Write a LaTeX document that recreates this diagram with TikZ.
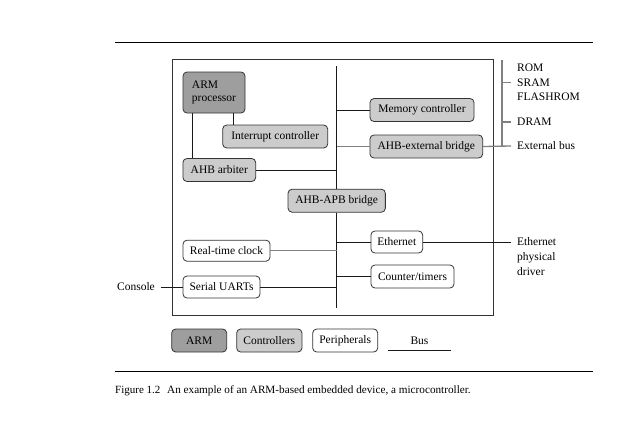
\documentclass[tikz,border=0pt]{standalone}
\usepackage{fontspec}
\setmainfont{Liberation Serif}
\usetikzlibrary{calc}

\begin{document}
\begin{tikzpicture}[x=1pt, y=-1pt,
  blk/.style={draw=black!80, line width=.8pt, rounded corners=4pt, minimum height=23pt, inner sep=2pt, font=\fontsize{11.5}{13}\selectfont},
  arm/.style={blk, fill=black!38},
  ctrl/.style={blk, fill=black!20},
  peri/.style={blk, fill=white},
  lbl/.style={inner xsep=6pt, inner ysep=1pt, font=\fontsize{11.5}{15}\selectfont, align=left},
  gline/.style={black!50, line width=1.3pt},
  wire/.style={black!90, line width=.8pt}]

\useasboundingbox (0,0) rectangle (624,442);

% rules and frame
\draw[line width=.8pt] (115,42) -- (593,42);
\draw[line width=.8pt] (115,371) -- (593,371);
\draw[line width=1pt, black!80] (172,59) rectangle (493,315);

% blocks
\node[arm, minimum width=62pt, minimum height=41pt, align=left] (cpu) at (214,92.5) {ARM\\processor};
\node[ctrl, minimum width=105pt] (irq) at (275.2,136.5) {Interrupt controller};
\node[ctrl, minimum width=72.7pt] (arb) at (219.3,170) {AHB arbiter};
\node[ctrl, minimum width=104pt] (mem) at (422,110) {Memory controller};
\node[ctrl, minimum width=112.7pt] (xbr) at (426.3,146.5) {AHB-external bridge};
\node[ctrl, minimum width=97.3pt] (apb) at (336.7,200.7) {AHB-APB bridge};
\node[peri, minimum width=51.7pt, minimum height=22pt] (eth) at (396.8,242) {Ethernet};
\node[peri, minimum width=83pt] (cnt) at (412.5,276.5) {Counter/timers};
\node[peri, minimum width=87pt, minimum height=21pt] (rtc) at (226.5,250.7) {Real-time clock};
\node[peri, minimum width=77pt, minimum height=22pt] (uart) at (221.5,287) {Serial UARTs};

% outside labels
\node[lbl, anchor=west] (rom) at (511,68) {ROM};
\node[lbl, anchor=west] (sram) at (511,82.5) {SRAM};
\node[lbl, anchor=west] (flash) at (511,97) {FLASHROM};
\node[lbl, anchor=west] (dram) at (511,122) {DRAM};
\node[lbl, anchor=west] (ext) at (511,146) {External bus};
\node[lbl, anchor=north west] (phy) at (511,236) {Ethernet\\physical\\driver};
\node[lbl, anchor=east] (con) at (161,287) {Console};

% AHB/APB bus
\coordinate (bustop) at (336.7,66);
\coordinate (busbot) at (336.7,308);
\coordinate (memtop) at (502,60);
\draw[wire] (bustop) -- (apb.north);
\draw[wire] (apb.south) -- (busbot);

\draw[wire] ([xshift=19pt]cpu.south) -- ([xshift=19pt]cpu.south |- irq.north);
\draw[wire] ([xshift=-22pt]cpu.south) -- ([xshift=-22pt]cpu.south |- arb.north);
\draw[wire] (arb.east) -- (arb.east -| bustop);
\draw[wire] (mem.west) -- (mem.west -| bustop);
\draw[gline] (xbr.west) -- (xbr.west -| bustop);
\draw[wire] (eth.west) -- (eth.west -| bustop);
\draw[gline] (rtc.east) -- (rtc.east -| bustop);
\draw[wire] (cnt.west) -- (cnt.west -| bustop);
\draw[wire] (uart.east) -- (uart.east -| bustop);
\draw[wire] (con.east) -- (uart.west);
\draw[wire] (eth.east) -- (eth.east -| phy.west);

% external memory bus
\draw[gline] (xbr.east) -- (ext.west);
\draw[gline] (memtop) -- (memtop |- ext.west);
\draw[gline] (memtop |- sram.west) -- (sram.west);
\draw[gline] (memtop |- dram.west) -- (dram.west);

% key
\node[arm, minimum width=55pt] (karm) at (199.2,340.5) {ARM};
\node[ctrl, minimum width=65.3pt] (kctrl) at (269.3,340.5) {Controllers};
\node[peri, minimum width=65pt] (kperi) at (345.2,340.5) {Peripherals};
\node[minimum width=63pt, minimum height=19pt, inner sep=0pt, font=\fontsize{11.5}{13}\selectfont] (kbus) at (419.5,340.5) {Bus};
\draw[wire] (kbus.south west) -- (kbus.south east);

% caption
\node[anchor=base west, inner sep=0pt, font=\fontsize{11}{13}\selectfont] (fig) at (115,393) {Figure 1.2};
\node[anchor=base west, inner sep=0pt, font=\fontsize{11.2}{13}\selectfont] (cap) at (167,393) {An example of an ARM-based embedded device, a microcontroller.};
\end{tikzpicture}
\end{document}
